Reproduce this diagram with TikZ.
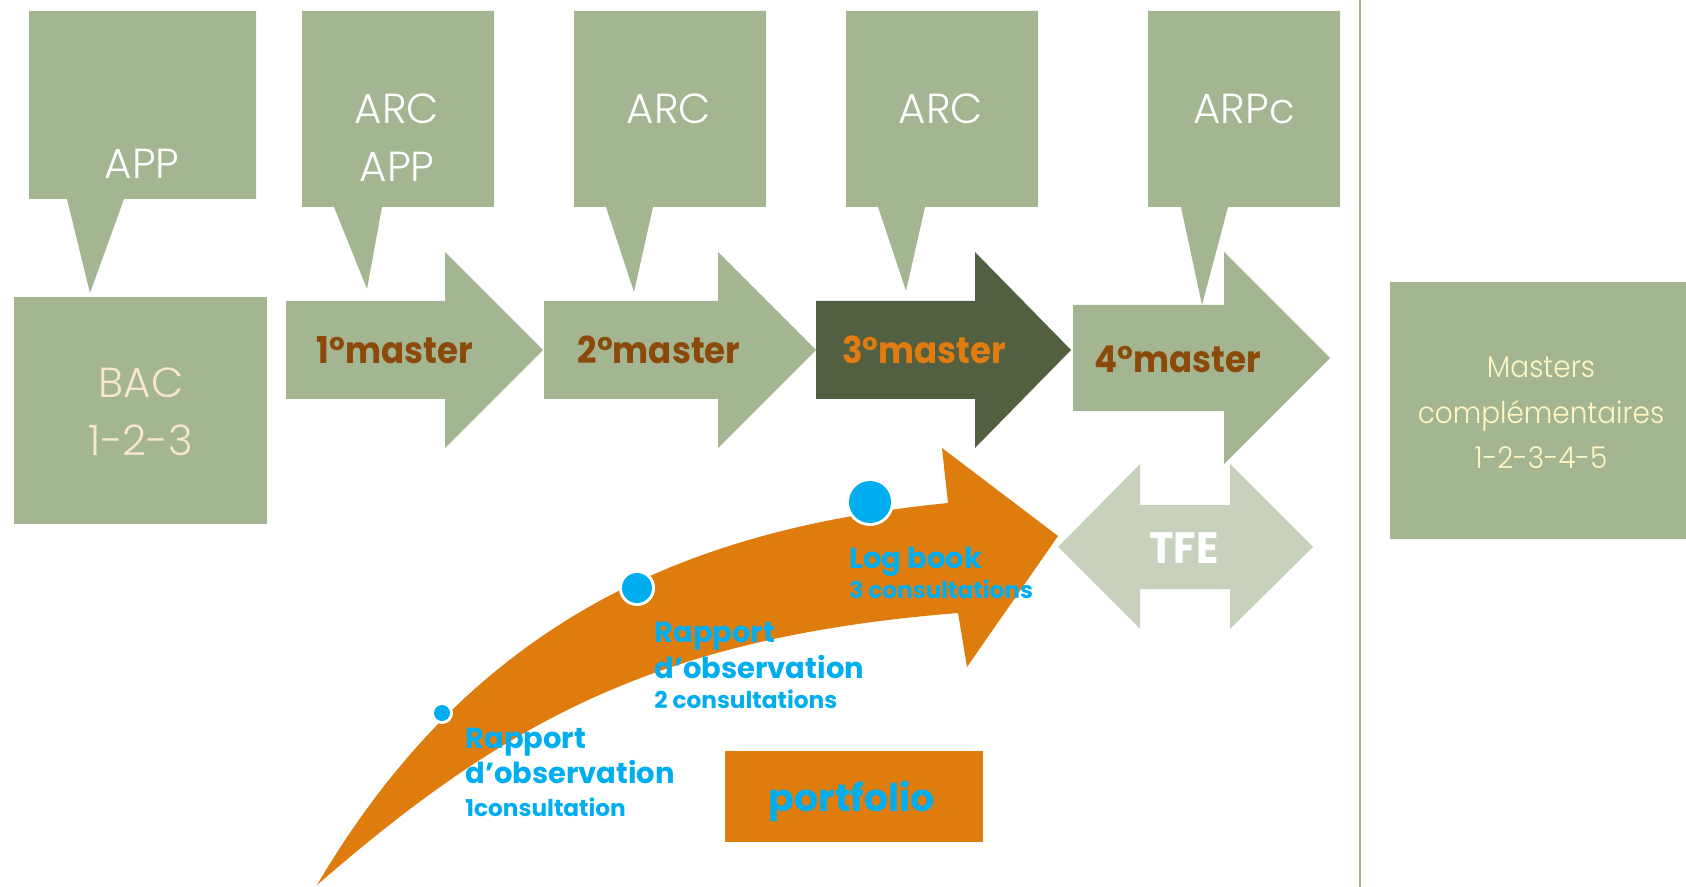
\documentclass[tikz,border=0pt]{standalone}
\usepackage{fontspec}
\setmainfont{Poppins}
\newfontfamily\condfont[FakeStretch=0.94]{Poppins}
\newfontfamily\mfont[FakeStretch=0.92]{Poppins}
\newfontfamily\lightfont{Poppins}[UprightFont={* Light}]
\definecolor{sage}{HTML}{A4B592}
\definecolor{darksage}{HTML}{525F41}
\definecolor{paleSage}{HTML}{C7D1BC}
\definecolor{brownTxt}{HTML}{8C4A0A}
\definecolor{orangeA}{HTML}{DE7C0D}
\definecolor{orangeTxt}{HTML}{E07C10}
\definecolor{blueTxt}{HTML}{00AEEF}
\definecolor{creamTxt}{HTML}{F7E6D0}
\definecolor{yellowTxt}{HTML}{FFF8C4}
\tikzset{
  calloutfill/.style={fill=sage},
  calltxt/.style={inner sep=0pt, anchor=base, text=white, font=\lightfont\fontsize{21}{24}\selectfont},
  mastertxt/.style={inner sep=0pt, anchor=base, text=brownTxt, font=\mfont\bfseries\fontsize{18.5}{22}\selectfont},
  mctxt/.style={inner sep=0pt, anchor=base, text=yellowTxt, font=\lightfont\addfontfeatures{FakeStretch=0.93}\fontsize{15}{18}\selectfont},
  bluebig/.style={inner sep=0pt, anchor=base west, text=blueTxt, font=\bfseries\fontsize{14.5}{17}\selectfont},
  bluesmall/.style={inner sep=0pt, anchor=base west, text=blueTxt, font=\bfseries\fontsize{11.6}{14}\selectfont},
  dotring/.style={fill=white},
  dotcore/.style={fill=blueTxt}
}
\begin{document}
\begin{tikzpicture}[x=0.5pt,y=-0.5pt]
\useasboundingbox (0,0) rectangle (1686,887);
\fill[white] (0,0) rectangle (1686,887);

% callouts
\fill[calloutfill] (29,11) -- (256,11) -- (256,199) -- (124,199) -- (90,293) -- (67,199) -- (29,199) -- cycle;
\fill[calloutfill] (302,11) -- (494,11) -- (494,207) -- (382,207) -- (367,289) -- (334,207) -- (302,207) -- cycle;
\fill[calloutfill] (574,11) -- (766,11) -- (766,207) -- (653,207) -- (634,292) -- (606,207) -- (574,207) -- cycle;
\fill[calloutfill] (846,11) -- (1038,11) -- (1038,207) -- (925,207) -- (906,291) -- (878,207) -- (846,207) -- cycle;
\fill[calloutfill] (1148,11) -- (1340,11) -- (1340,207) -- (1228,207) -- (1202,305) -- (1181,207) -- (1148,207) -- cycle;

\node[calltxt] (app1) at (142,179) {APP};
\node[calltxt] (arc1) at (397,124) {ARC};
\node[calltxt] (app2) at (397,182) {APP};
\node[calltxt] (arc2) at (669,124) {ARC};
\node[calltxt] (arc3) at (941,124) {ARC};
\node[calltxt] (arpc) at (1244,124) {ARPc};

% BAC box
\fill[sage] (14,297) rectangle (267,524);
\node[calltxt, text=creamTxt] (bac) at (141,398) {BAC};
\node[calltxt, text=creamTxt] (bacn) at (141,455) {1-2-3};

% master arrows
\fill[sage] (286,301) -- (445,301) -- (445,252) -- (543,350) -- (445,448) -- (445,399) -- (286,399) -- cycle;
\fill[sage] (544,301) -- (718,301) -- (718,252) -- (816,350) -- (718,448) -- (718,399) -- (544,399) -- cycle;
\fill[darksage] (816,301) -- (975,301) -- (975,252) -- (1071,350) -- (975,448) -- (975,399) -- (816,399) -- cycle;
\fill[sage] (1073,305) -- (1224,305) -- (1224,252) -- (1330,358) -- (1224,464) -- (1224,411) -- (1073,411) -- cycle;

\node[mastertxt] (m1) at (395,364) {1°master};
\node[mastertxt] (m2) at (659,364) {2°master};
\node[mastertxt, text=orangeTxt] (m3) at (924,364) {3°master};
\node[mastertxt] (m4) at (1178,373) {4°master};

% separator
\draw[sage, line width=1pt] (1360,0) -- (1360,887);

% masters complementaires
\fill[sage] (1390,282) rectangle (1686,539);
\node[mctxt] (mc1) at (1541,378) {Masters};
\node[mctxt] (mc2) at (1541,423) {complémentaires};
\node[mctxt] (mc3) at (1541,468) {1-2-3-4-5};

% TFE double arrow
\fill[paleSage] (1058,547) -- (1140,464) -- (1140,505) -- (1230,505) -- (1230,464) -- (1313,547) -- (1230,629) -- (1230,589) -- (1140,589) -- (1140,629) -- cycle;
\node[inner sep=0pt, anchor=base, text=white, font=\condfont\bfseries\fontsize{22}{26}\selectfont] (tfe) at (1184,563) {TFE};

% orange curved arrow
\fill[orangeA] (317,885) .. controls (477,613) and (698,528) .. (948,503)
  -- (942,448) -- (1058,536) -- (967,667) -- (958,613)
  .. controls (658,637) and (506,721) .. (317,885) -- cycle;

% dots
\fill[dotring] (442,713) circle[radius=5.5pt];
\fill[dotcore] (442,713) circle[radius=4pt];
\fill[dotring] (637,588) circle[radius=9pt];
\fill[dotcore] (637,588) circle[radius=7.5pt];
\fill[dotring] (870,502) circle[radius=12pt];
\fill[dotcore] (870,502) circle[radius=10.5pt];

% blue labels
\node[bluebig] (r1a) at (465,748) {Rapport};
\node[bluebig] (r1b) at (465,783) {d’observation};
\node[bluesmall] (r1c) at (465,816) {1consultation};
\node[bluebig] (r2a) at (654,642) {Rapport};
\node[bluebig] (r2b) at (654,678) {d’observation};
\node[bluesmall] (r2c) at (654,708) {2 consultations};
\node[bluebig] (lb) at (849,568) {Log book};
\node[bluesmall] (lbc) at (849,598) {3 consultations};

% portfolio
\fill[orangeA] (725,751) rectangle (983,842);
\node[inner sep=0pt, anchor=base, text=blueTxt, font=\bfseries\fontsize{19}{22}\selectfont] (pf) at (852,811) {portfolio};
\end{tikzpicture}
\end{document}
